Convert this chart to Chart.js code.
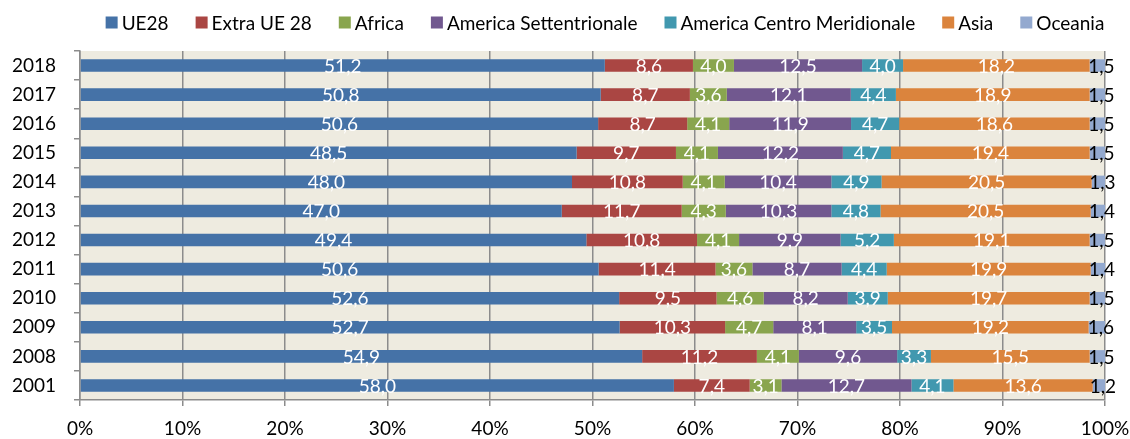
<!DOCTYPE html>
<html>
<head>
<meta charset="utf-8">
<script src="https://cdn.jsdelivr.net/npm/chart.js@4.4.0/dist/chart.umd.min.js"></script>
<style>
  html, body { margin: 0; padding: 0; background: #fff; }
  #wrap { width: 1130px; height: 439px; }
</style>
</head>
<body>
<div id="wrap"><canvas id="chart"></canvas></div>
<script>
// anni, dall'alto in basso
const years = ["2018", "2017", "2016", "2015", "2014", "2013", "2012", "2011", "2010", "2009", "2008", "2001"];

const ue28 = [51.2, 50.8, 50.6, 48.5, 48.0, 47.0, 49.4, 50.6, 52.6, 52.7, 54.9, 58.0];
const extraUe28 = [8.6, 8.7, 8.7, 9.7, 10.8, 11.7, 10.8, 11.4, 9.5, 10.3, 11.2, 7.4];
const africa = [4.0, 3.6, 4.1, 4.1, 4.1, 4.3, 4.1, 3.6, 4.6, 4.7, 4.1, 3.1];
const americaSett = [12.5, 12.1, 11.9, 12.2, 10.4, 10.3, 9.9, 8.7, 8.2, 8.1, 9.6, 12.7];
const americaCM = [4.0, 4.4, 4.7, 4.7, 4.9, 4.8, 5.2, 4.4, 3.9, 3.5, 3.3, 4.1];
const asia = [18.2, 18.9, 18.6, 19.4, 20.5, 20.5, 19.1, 19.9, 19.7, 19.2, 15.5, 13.6];
const oceania = [1.5, 1.5, 1.5, 1.5, 1.3, 1.4, 1.5, 1.4, 1.5, 1.6, 1.5, 1.2];

const xTicks = [0, 10, 20, 30, 40, 50, 60, 70, 80, 90, 100];

const series = [
  { label: "UE28", values: ue28, color: "#4572A7" },
  { label: "Extra UE 28", values: extraUe28, color: "#AA4643" },
  { label: "Africa", values: africa, color: "#89A54E" },
  { label: "America Settentrionale", values: americaSett, color: "#71588F" },
  { label: "America Centro Meridionale", values: americaCM, color: "#4198AF" },
  { label: "Asia", values: asia, color: "#DB843D" },
  { label: "Oceania", values: oceania, color: "#93A9CF", labelColor: "#000" }
];

// totale per anno, per il grafico al 100%
const totals = years.map((y, i) => series.reduce((s, d) => s + d.values[i], 0));

const FONT = "Lato, 'Open Sans', sans-serif";

const plotBg = {
  id: "plotBg",
  beforeDraw(chart) {
    const { ctx, chartArea: a } = chart;
    ctx.save();
    ctx.fillStyle = "#EEEBE0";
    ctx.fillRect(a.left, a.top, a.right - a.left, a.bottom - a.top);
    ctx.restore();
  }
};

// legenda in alto, disegnata a mano per avere le spaziature giuste
const topLegend = {
  id: "topLegend",
  afterDraw(chart) {
    const ctx = chart.ctx;
    const box = 12, gapText = 4, gapItem = 27, cy = 22.5;
    ctx.save();
    ctx.font = "19px " + FONT;
    ctx.textBaseline = "middle";
    const items = chart.data.datasets.map(ds => ({
      text: ds.label, color: ds.backgroundColor, w: ctx.measureText(ds.label).width
    }));
    const total = items.reduce((s, it) => s + box + gapText + it.w, 0) + gapItem * (items.length - 1);
    let x = 605 - total / 2;
    items.forEach(it => {
      ctx.fillStyle = it.color;
      ctx.fillRect(x, cy - box / 2, box, box);
      x += box + gapText;
      ctx.fillStyle = "#000";
      ctx.fillText(it.text, x, cy + 1);
      x += it.w + gapItem;
    });
    ctx.restore();
  }
};

const valueLabels = {
  id: "valueLabels",
  afterDatasetsDraw(chart) {
    const ctx = chart.ctx;
    ctx.save();
    ctx.font = "19px " + FONT;
    ctx.textAlign = "center";
    ctx.textBaseline = "middle";
    chart.data.datasets.forEach((ds, di) => {
      const meta = chart.getDatasetMeta(di);
      meta.data.forEach((bar, i) => {
        let cx = (bar.x + bar.base) / 2;
        if (ds.labelColor) cx += 4;
        ctx.fillStyle = ds.labelColor || "#fff";
        ctx.fillText(ds.raw[i].toFixed(1).replace(".", ","), cx, bar.y + 1);
      });
    });
    ctx.restore();
  }
};

new Chart(document.getElementById("chart"), {
  type: "bar",
  data: {
    labels: years,
    datasets: series.map(s => ({
      label: s.label,
      raw: s.values,
      labelColor: s.labelColor,
      data: s.values.map((v, i) => v / totals[i] * 100),
      backgroundColor: s.color,
      borderWidth: 0,
      barPercentage: 0.43,
      categoryPercentage: 1
    }))
  },
  plugins: [plotBg, valueLabels, topLegend],
  options: {
    indexAxis: "y",
    responsive: true,
    maintainAspectRatio: false,
    animation: false,
    layout: { padding: { left: 12, right: 25, top: 51, bottom: 0 } },
    plugins: {
      legend: { display: false },
      tooltip: { enabled: false }
    },
    scales: {
      x: {
        stacked: true,
        min: 0,
        max: 100,
        afterBuildTicks(axis) { axis.ticks = xTicks.map(v => ({ value: v })); },
        afterFit(axis) {
          axis.height = 39;
          axis.paddingLeft = 0;
          axis.paddingRight = 0;
        },
        ticks: {
          font: { family: FONT, size: 19 },
          color: "#000",
          padding: 11,
          maxRotation: 0,
          callback: v => v + "%"
        },
        grid: { color: "#8C8C8C", lineWidth: 1.5, tickLength: 6 },
        border: { color: "#8C8C8C", width: 1.5 }
      },
      y: {
        stacked: true,
        afterFit(axis) {
          axis.width = 68;
          axis.paddingTop = 0;
          axis.paddingBottom = 0;
        },
        ticks: { font: { family: FONT, size: 19 }, color: "#000", padding: 18 },
        grid: { offset: true, drawOnChartArea: false, color: "#8C8C8C", lineWidth: 1.5, tickLength: 6 },
        border: { color: "#8C8C8C", width: 1.5 }
      }
    }
  }
});
</script>
</body>
</html>
